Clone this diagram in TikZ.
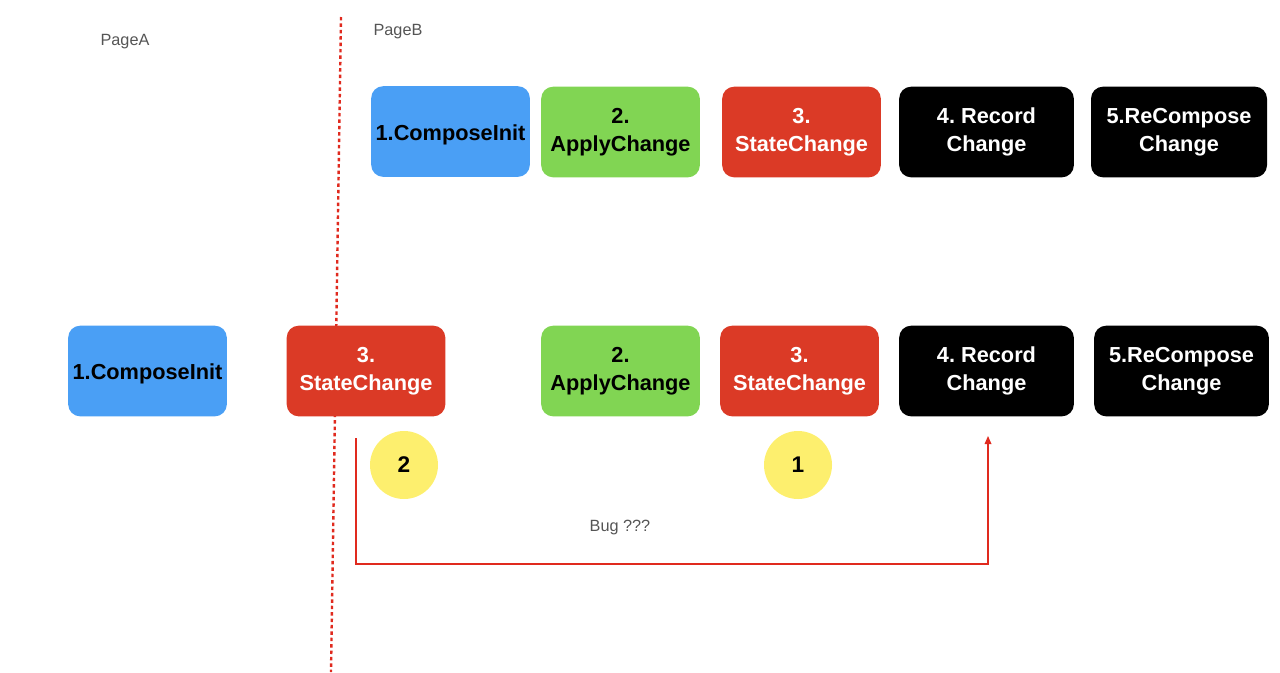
\documentclass[tikz,border=0pt]{standalone}
\usepackage{fontspec}
\setmainfont{Liberation Sans}
\usetikzlibrary{arrows.meta,calc}
\definecolor{cblue}{HTML}{4A9FF5}
\definecolor{cgreen}{HTML}{81D553}
\definecolor{cred}{HTML}{DB3A26}
\definecolor{cyel}{HTML}{FDEF6E}
\definecolor{cgray}{HTML}{555555}
\definecolor{cline}{HTML}{E02A1E}
\frenchspacing
\begin{document}
\begin{tikzpicture}[x=0.75pt,y=-0.75pt,
  box/.style={rounded corners=9pt,minimum height=68pt,inner sep=0pt,align=center,
    font=\fontsize{16.3}{21}\selectfont\bfseries,
    execute at begin node={\rule{0pt}{16.5pt}}},
  bluebox/.style={box,fill=cblue,text=black},
  greenbox/.style={box,fill=cgreen,text=black},
  redbox/.style={box,fill=cred,text=white},
  blackbox/.style={box,fill=black,text=white},
  badge/.style={circle,fill=cyel,minimum size=51pt,inner sep=0pt,font=\fontsize{17}{20}\selectfont\bfseries},
  lbl/.style={text=cgray,font=\fontsize{12.2}{14}\selectfont,inner sep=0pt},
  bugline/.style={draw=cline,line width=0.9pt}]
\useasboundingbox (0,0) rectangle (1280,672);
% labels
\node[lbl] (pa) at (125,42) {PageA};
\node[lbl] (pb) at (398,32) {PageB};
% divider
\coordinate (d1) at (341,17);
\coordinate (d2) at (331,672);
\draw[cline,line width=1.8pt,dash pattern=on 2.6pt off 2.2pt] (d1) -- (d2);
% top row
\node[bluebox,minimum width=119pt] (t1) at (450.5,131.5) {1.ComposeInit};
\node[greenbox,minimum width=119pt] (t2) at (620.5,132) {2.\\ApplyChange};
\node[redbox,minimum width=119pt] (t3) at (801.5,132) {3.\\StateChange};
\node[blackbox,minimum width=131pt] (t4) at (986.5,132) {4. Record\\Change};
\node[blackbox,minimum width=132pt] (t5) at (1179,132) {5.ReCompose\\Change};
% bottom row
\node[bluebox,minimum width=119pt] (b1) at (147.5,371) {1.ComposeInit};
\node[redbox,minimum width=119pt] (b3a) at (366,371) {3.\\StateChange};
\node[greenbox,minimum width=119pt] (b2) at (620.5,371) {2.\\ApplyChange};
\node[redbox,minimum width=119pt] (b3) at (799.5,371) {3.\\StateChange};
\node[blackbox,minimum width=131pt] (b4) at (986.5,371) {4. Record\\Change};
\node[blackbox,minimum width=131pt] (b5) at (1181.5,371) {5.ReCompose\\Change};
% badges
\node[badge] (c2) at (404,465) {2};
\node[badge] (c1) at (798,465) {1};
% bug connector
\coordinate (s) at (356,438);
\coordinate (e) at (988,436);
\draw[bugline,-{Triangle[length=6pt,width=5pt]}] (s) |- (988,564) -- (e);
\node[lbl] (bug) at (620,527) {Bug ???};
\end{tikzpicture}
\end{document}
